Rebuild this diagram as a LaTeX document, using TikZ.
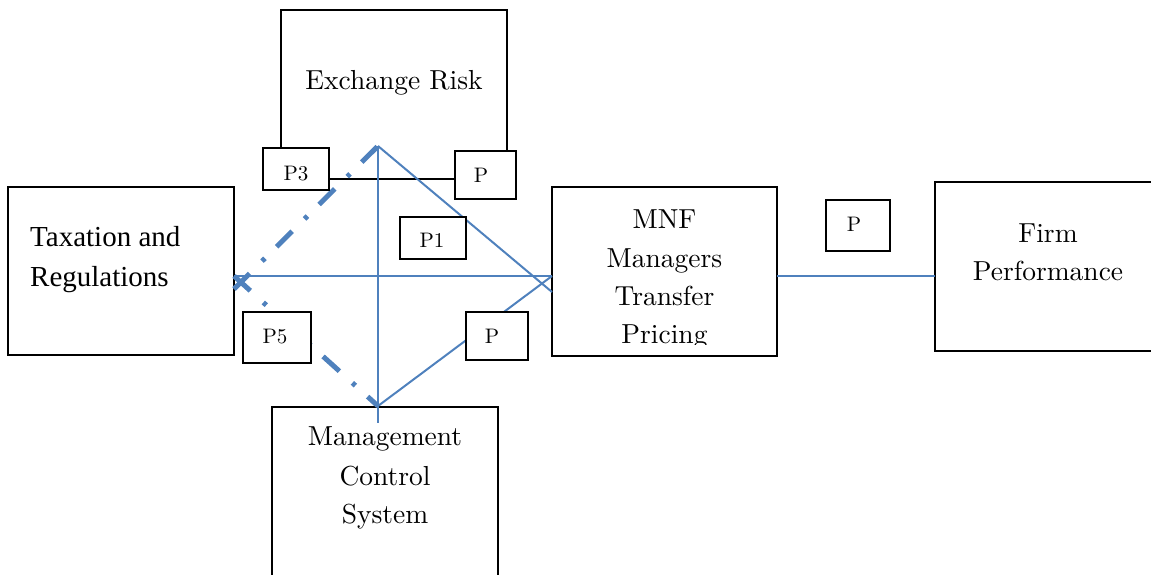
\documentclass[tikz,border=0pt]{standalone}
\usepackage{fontspec}
\setmainfont{lmroman10-regular}[Extension=.otf]
\newfontfamily\timesf{Liberation Serif}
\definecolor{lblue}{HTML}{4F81BD}
\begin{document}
\begin{tikzpicture}[x=1pt,y=-1pt,
  box/.style={draw=black,line width=2.6pt,rectangle,inner sep=0pt,fill=white},
  pbox/.style={draw=black,line width=2.2pt,rectangle,inner sep=0pt,fill=white},
  bigtext/.style={inner sep=0pt,anchor=base,font=\fontsize{27.5}{34}\selectfont},
  ptext/.style={inner sep=0pt,anchor=base,font=\fontsize{21}{24}\selectfont},
  conn/.style={draw=lblue,line width=2pt},
  dashdot/.style={draw=lblue,line width=5pt,dash pattern=on 22pt off 17.5pt on 4pt off 16.5pt}]
\useasboundingbox (0,0) rectangle (1151,574);
\begin{scope}
\clip (0,0) rectangle (1151,574);
% main boxes
\node[box,minimum width=226pt,minimum height=168pt] (tax) at (121,271) {};
\node[box,minimum width=226pt,minimum height=169pt] (exch) at (394,94.5) {};
\node[box,minimum width=225pt,minimum height=169pt] (mnf) at (664.5,271.5) {};
\node[box,minimum width=226pt,minimum height=169pt] (firm) at (1048,266.5) {};
\node[box,minimum width=226pt,minimum height=169pt] (mcs) at (385,491.5) {};
\end{scope}
% connector end points
\coordinate (apex) at (378,146);
\coordinate (bot) at (378,406);
\coordinate (vend) at (378,423);
\coordinate (taxA) at (234,276);
\coordinate (taxB) at (234,289);
\coordinate (mnfA) at (552,276);
\coordinate (mnfB) at (552,292);
\coordinate (mnfR) at (777,276);
\coordinate (firmL) at (935,276);
% blue connectors
\draw[conn] (taxA) -- (mnfA);
\draw[conn] (apex) -- (vend);
\draw[conn] (apex) -- (mnfB);
\draw[conn] (bot) -- (mnfA);
\draw[conn] (mnfR) -- (firmL);
\draw[dashdot] (taxB) -- (apex);
\draw[dashdot] (taxA) -- (bot);
% small P boxes
\node[pbox,minimum width=66pt,minimum height=42pt] (p3) at (296,169) {};
\node[pbox,minimum width=61pt,minimum height=48pt] (pu) at (485.5,175) {};
\node[pbox,minimum width=66pt,minimum height=42pt] (p1) at (433,238) {};
\node[pbox,minimum width=68pt,minimum height=51pt] (p5) at (277,337.5) {};
\node[pbox,minimum width=62pt,minimum height=48pt] (pl) at (497,336) {};
\node[pbox,minimum width=64pt,minimum height=51pt] (pf) at (858,225.5) {};
% texts
\node[bigtext] (t1) at (394,89) {Exchange Risk};
\node[inner sep=0pt,anchor=base west,font=\timesf\fontsize{29}{34}\selectfont] (t2) at (30,246) {Taxation and};
\node[inner sep=0pt,anchor=base west,font=\timesf\fontsize{29}{34}\selectfont] (t3) at (30,286) {Regulations};
\begin{scope}
\clip (552,187) rectangle (777,344);
\node[bigtext] (t4) at (664.5,228) {MNF};
\node[bigtext] (t5) at (664.5,267) {Managers};
\node[bigtext] (t6) at (664.5,305) {Transfer};
\node[bigtext] (t7) at (664.5,343) {Pricing};
\end{scope}
\node[bigtext] (t8) at (1048,242) {Firm};
\node[bigtext] (t9) at (1048,280) {Performance};
\node[bigtext] (t10) at (385,445) {Management};
\node[bigtext] (t11) at (385,485) {Control};
\node[bigtext] (t12) at (385,523) {System};
\node[ptext] (l1) at (296,180) {P3};
\node[ptext] (l2) at (481,182) {P};
\node[ptext] (l3) at (432,247) {P1};
\node[ptext] (l4) at (275,343) {P5};
\node[ptext] (l5) at (492,343) {P};
\node[ptext] (l6) at (854,231) {P};
\end{tikzpicture}
\end{document}
